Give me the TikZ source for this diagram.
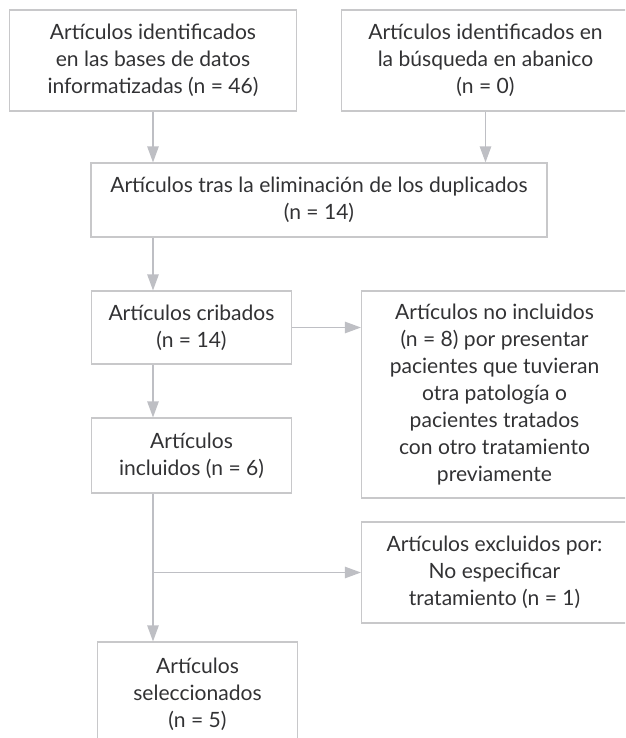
\documentclass[tikz,border=0pt]{standalone}
\usepackage{fontspec}
\setmainfont{Lato}
\usepackage{tikz}
\usetikzlibrary{calc,arrows.meta}

\definecolor{borde}{RGB}{200,200,202}
\definecolor{linea}{RGB}{190,191,196}
\definecolor{texto}{RGB}{50,50,52}

\tikzset{
  caja/.style={draw=borde, line width=0.8pt, inner sep=0pt, align=center,
    text=texto, font=\fontsize{15.8}{20.25}\selectfont},
  flecha/.style={draw=linea, line width=1.1pt, -{Triangle[length=12pt,width=8.5pt]}}
}

\begin{document}
\begin{tikzpicture}[x=0.75pt,y=-0.75pt]
  \useasboundingbox (0,0) rectangle (625,738);
  \clip (0,0) rectangle (625,738);

  % identification
  \node[caja, minimum width=215.25pt, minimum height=75.75pt] (datos) at (153,60.5)
    {Artículos identificados\\en las bases de datos\\informatizadas (n = 46)};
  \node[caja, minimum width=216pt, minimum height=75.75pt] (abanico) at (485.5,60.5)
    {Artículos identificados en\\la búsqueda en abanico\\(n = 0)};
  \node[caja, minimum width=342pt, minimum height=55.5pt] (dupl) at (319,200)
    {Artículos tras la eliminación de los duplicados\\(n = 14)};

  % screening
  \node[caja, minimum width=150pt, minimum height=54.75pt] (cribados) at (191.5,327.5)
    {Artículos cribados\\(n = 14)};
  \node[caja, minimum width=199.5pt, minimum height=155.25pt] (noincl) at (494.5,394.5)
    {Artículos no incluidos\\(n = 8) por presentar\\pacientes que tuvieran\\otra patología o\\pacientes tratados\\con otro tratamiento\\previamente};
  \node[caja, minimum width=150pt, minimum height=56.25pt] (incl) at (191.5,455.5)
    {Artículos\\incluidos (n = 6)};
  \node[caja, minimum width=199.5pt, minimum height=75.75pt] (excl) at (494.5,572.5)
    {Artículos excluidos por:\\No especificar\\tratamiento (n = 1)};
  \node[caja, minimum width=150pt, minimum height=78pt] (selec) at (197.5,694)
    {Artículos\\seleccionados\\(n = 5)};

  \draw[flecha] (datos.south) -- (datos.south |- dupl.north);
  \draw[flecha] (abanico.south) -- (abanico.south |- dupl.north);
  \foreach \a/\b in {dupl/cribados,cribados/incl,incl/selec}{
    \draw[flecha] (datos.south |- \a.south) -- (datos.south |- \b.north);
  }
  \draw[flecha] (cribados.east) -- (cribados.east -| noincl.west);
  \coordinate (rama) at (datos.south |- excl.west); % branch off the main line
  \draw[flecha] (rama) -- (excl.west);
\end{tikzpicture}
\end{document}
